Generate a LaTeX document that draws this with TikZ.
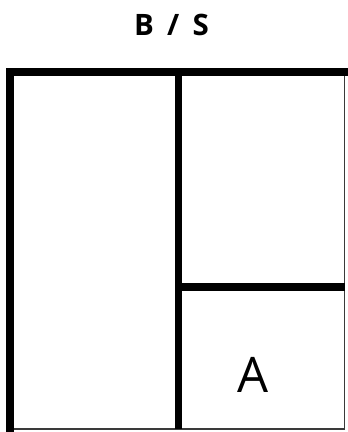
\documentclass[tikz,border=0pt]{standalone}
\usepackage{fontspec}
\setmainfont{Open Sans}
\usepackage{tikz}
\definecolor{InkDark}{HTML}{000000}
\definecolor{EdgeGray}{HTML}{3A3A3A}

\begin{document}
\begin{tikzpicture}[x=1pt, y=-1pt, every node/.style={font=\normalsize, inner sep=0pt}]
  \useasboundingbox (0,0) rectangle (348,432);
  \def\wall{7.5}  % thick wall width
  \def\xl{10}     % left wall
  \def\xr{344.5}  % right edge
  \def\yt{72}     % top wall
  \def\yb{429}    % bottom edge
  \def\xm{178.5}  % middle wall
  \def\ym{287}    % shelf wall
  % Title
  \node[font=\fontsize{29.5}{30}\selectfont\bfseries, color=InkDark, anchor=base]
    (title) at (171.5, 35) {B\hspace{0.45em}/\hspace{0.45em}S};
  % Thin right and bottom edges
  \draw[draw=EdgeGray, line width=1.2pt] (\xr,\yt) -- (\xr,\yb) -- (\xl,\yb);
  % Thick outer walls
  \draw[draw=InkDark, line width=\wall pt, line cap=rect]
    (\xl,\yb) -- (\xl,\yt) -- (\xr,\yt);
  % Inner walls
  \draw[draw=InkDark, line width=\wall pt] (\xm,\yt) -- (\xm,\yb);
  \draw[draw=InkDark, line width=\wall pt] (\xm,\ym) -- (\xr,\ym);
  % Label
  \node[font=\fontsize{49}{49}\selectfont, color=InkDark, anchor=base]
    (labelA) at (253.5, 392) {A};
\end{tikzpicture}
\end{document}
